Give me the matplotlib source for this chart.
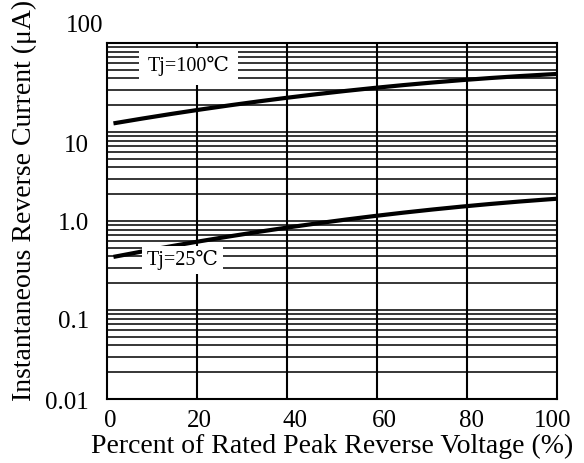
import numpy as np
import matplotlib
matplotlib.use("Agg")
import matplotlib.pyplot as plt
import matplotlib.transforms as mtrans

plt.rcParams['font.family'] = ['Liberation Serif', 'DejaVu Serif', 'DejaVu Sans']

# curves (percent of rated voltage, uA)
pct = [1.5, 20, 40, 60, 80, 100]
ir_100c = [12.0, 19.0, 24.0, 31.0, 37.5, 46.0]
ir_25c = [0.38, 0.63, 0.83, 1.11, 1.47, 1.80]

xticks = [0, 20, 40, 60, 80, 100]
yticks = [0.01, 0.1, 1.0, 10, 100]
ytick_labels = ['0.01', '0.1', '1.0', '10', '100']
# the original labels are placed by hand, offsets in px (right, down)
ytick_dx = [-17.7, -17.7, -17.7, -17.7, -3.7]
ytick_dy = [1.5, 9, 0.5, 11, -20]
xtick_dx = [4, 3, 8, 7, 5, -4]

fig = plt.figure(figsize=(5.84, 4.63), dpi=100)
ax = fig.add_axes([0.1827, 0.1382, 0.7711, 0.7689])

# grid: every 1..9 step of each decade, plus 20% verticals
for dec in [0.01, 0.1, 1, 10]:
    for k in range(1, 10):
        ax.axhline(dec * k, color='black', lw=1.1, zorder=1)
for xv in [20, 40, 60, 80]:
    ax.axvline(xv, color='black', lw=1.5, zorder=1)

# smooth the read points in log space for drawing
xs = np.linspace(pct[0], pct[-1], 200)
for ys in [ir_100c, ir_25c]:
    c = np.polyfit(pct, np.log10(ys), 2)
    ax.plot(xs, 10 ** np.polyval(c, xs), color='black', lw=3.0, zorder=3,
            solid_capstyle='butt')

ax.set_yscale('log')
ax.set_xlim(0, 100)
ax.set_ylim(0.01, 100)
ax.set_xticks(xticks)
ax.set_xticklabels([str(v) for v in xticks])
ax.set_yticks(yticks)
ax.set_yticklabels(ytick_labels)
ax.yaxis.set_minor_locator(plt.NullLocator())
ax.tick_params(length=0, labelsize=18)
ax.tick_params(axis='x', pad=8)
ax.tick_params(axis='y', pad=0)
for spine in ax.spines.values():
    spine.set_linewidth(1.5)

for lab, dx, dy in zip(ax.get_yticklabels(), ytick_dx, ytick_dy):
    lab.set_transform(lab.get_transform() +
                      mtrans.ScaledTranslation(dx / 100, -dy / 100, fig.dpi_scale_trans))
for lab, dx in zip(ax.get_xticklabels(), xtick_dx):
    lab.set_transform(lab.get_transform() +
                      mtrans.ScaledTranslation(dx / 100, 0, fig.dpi_scale_trans))

ax.text(18.2, 54.5, 'Tj=100\u2103', fontsize=14.5, ha='center', va='center',
        bbox=dict(facecolor='white', edgecolor='none', pad=6), zorder=4)
ax.text(16.8, 0.363, 'Tj=25\u2103', fontsize=14.5, ha='center', va='center',
        bbox=dict(facecolor='white', edgecolor='none', pad=3), zorder=4)

ax.set_xlabel('Percent of Rated Peak Reverse Voltage (%)', fontsize=20)
ax.xaxis.set_label_coords(0.5, -0.097)
ax.set_ylabel('Instantaneous Reverse Current (\u03bcA)', fontsize=20)
ax.yaxis.set_label_coords(-0.155, 0.558)

fig.savefig('out.png', dpi=100)
